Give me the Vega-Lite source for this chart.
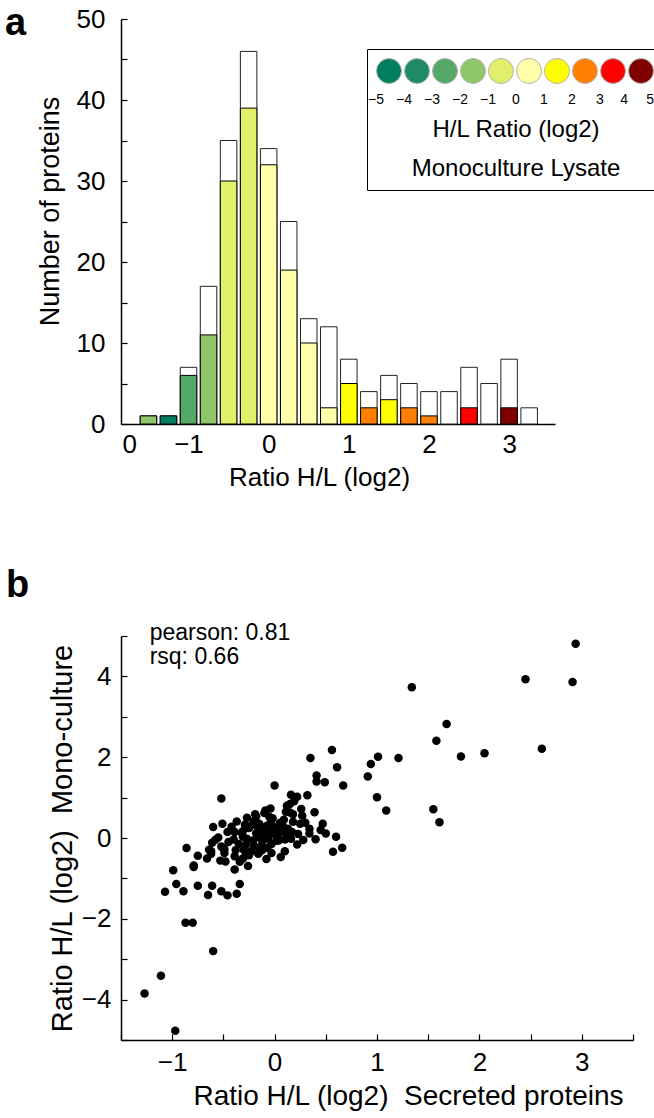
{
  "$schema": "https://vega.github.io/schema/vega-lite/v6.json",
  "background": "white",
  "padding": {"left": 5, "top": 5, "right": 0, "bottom": 5},
  "config": {
    "font": "Liberation Sans",
    "view": {"stroke": null},
    "axis": {"domainColor": "black", "domainWidth": 1.5, "tickColor": "black", "tickWidth": 1.2, "labelColor": "black", "titleColor": "black", "labelFont": "Liberation Sans", "titleFont": "Liberation Sans", "labelFontSize": 26, "titleFontSize": 27, "titleFontWeight": "normal", "grid": false, "labelFlush": false, "labelOverlap": false},
    "concat": {"spacing": 77}
  },
  "vconcat": [
    {
      "width": 434,
      "height": 405,
      "title": {"text": "a", "anchor": "start", "frame": "group", "fontSize": 38, "fontWeight": "bold", "dx": -116, "offset": -37, "color": "black"},
      "data": {"values": [
        {"ratio": -1.5, "total": 1, "lysate": 1, "bin": "-2"},
        {"ratio": -1.25, "total": 1, "lysate": 1, "bin": "-5"},
        {"ratio": -1.0, "total": 7, "lysate": 6, "bin": "-3"},
        {"ratio": -0.75, "total": 17, "lysate": 11, "bin": "-2"},
        {"ratio": -0.5, "total": 35, "lysate": 30, "bin": "-1"},
        {"ratio": -0.25, "total": 46, "lysate": 39, "bin": "-1"},
        {"ratio": 0.0, "total": 34, "lysate": 32, "bin": "0"},
        {"ratio": 0.25, "total": 25, "lysate": 19, "bin": "0"},
        {"ratio": 0.5, "total": 13, "lysate": 10, "bin": "0"},
        {"ratio": 0.75, "total": 12, "lysate": 2, "bin": "0"},
        {"ratio": 1.0, "total": 8, "lysate": 5, "bin": "1"},
        {"ratio": 1.25, "total": 4, "lysate": 2, "bin": "2"},
        {"ratio": 1.5, "total": 6, "lysate": 3, "bin": "1"},
        {"ratio": 1.75, "total": 5, "lysate": 2, "bin": "2"},
        {"ratio": 2.0, "total": 4, "lysate": 1, "bin": "2"},
        {"ratio": 2.25, "total": 4, "lysate": 0, "bin": null},
        {"ratio": 2.5, "total": 7, "lysate": 2, "bin": "3"},
        {"ratio": 2.75, "total": 5, "lysate": 0, "bin": null},
        {"ratio": 3.0, "total": 8, "lysate": 2, "bin": "4"},
        {"ratio": 3.25, "total": 2, "lysate": 0, "bin": null}
      ]},
      "layer": [
        {
          "mark": {"type": "bar", "orient": "vertical", "fill": "white", "stroke": "#222", "strokeWidth": 1, "size": 16.5},
          "encoding": {
            "x": {"field": "ratio", "type": "quantitative", "scale": {"domain": [-1.78, 3.51], "nice": false, "zero": false},
                  "axis": {"values": [-1.74, -1, 0, 1, 2, 3], "ticks": false, "labelExpr": "datum.value < -1.5 ? '0' : format(datum.value, 'd')", "labelPadding": 7, "title": "Ratio H/L (log2)", "titleFontSize": 26, "titlePadding": 7, "titleX": 198}},
            "y": {"field": "total", "type": "quantitative", "scale": {"domain": [0, 50], "nice": false},
                  "axis": {"values": [0, 5, 10, 15, 20, 25, 30, 35, 40, 45, 50], "labelExpr": "datum.value % 10 === 0 ? format(datum.value, 'd') : ''", "tickSize": -6, "labelPadding": 22, "title": "Number of proteins", "titlePadding": 12, "titleY": 192}}
          }
        },
        {
          "transform": [{"filter": "datum.lysate > 0"}],
          "mark": {"type": "bar", "orient": "vertical", "stroke": "black", "strokeWidth": 1, "size": 16.5},
          "encoding": {
            "x": {"field": "ratio", "type": "quantitative"},
            "y": {"field": "lysate", "type": "quantitative"},
            "fill": {"field": "bin", "type": "ordinal",
              "scale": {"domain": ["-5", "-4", "-3", "-2", "-1", "0", "1", "2", "3", "4"],
                        "range": ["#007f5f", "#1f8a66", "#55a868", "#8fc66a", "#e2ef6a", "#ffffaa", "#ffff00", "#ff8000", "#ff0000", "#800000"]},
              "legend": {
                "orient": "none", "legendX": 246, "legendY": 30,
                "direction": "horizontal", "columns": 10, "gridAlign": "each", "columnPadding": -8.2,
                "title": ["H/L Ratio (log2)", "Monoculture Lysate"],
                "titleOrient": "bottom", "titleAnchor": "middle", "titleAlign": "center", "titleFontSize": 24, "titleFontWeight": "normal", "titleLineHeight": 39, "titlePadding": 11, "titleColor": "black", "titleFont": "Liberation Sans", "titleLimit": 600,
                "symbolType": "circle", "symbolSize": 625, "symbolStrokeColor": "#b4b4b4", "symbolStrokeWidth": 1, "symbolOpacity": 1,
                "labelFontSize": 14, "labelColor": "black", "labelFont": "Liberation Sans", "labelAlign": "center", "labelOffset": -26, "labelBaseline": "top", "labelLimit": 200,
                "labelExpr": "datum.value === '4' ? '\u00a04\u00a0\u00a0\u00a0\u00a0\u20095' : (toNumber(datum.value) < 0 ? replace(datum.label, '-', '−') : '\u00a0' + datum.label + '\u00a0')",
                "strokeColor": "black", "fillColor": "white", "padding": 9,
                "encode": {
                  "labels": {"update": {"dy": {"value": 22}, "align": {"signal": "datum.value === '4' ? 'left' : 'center'"}, "dx": {"signal": "datum.value === '4' ? -7.8 : 0"}}},
                  "symbols": {"update": {"stroke": {"value": "#b4b4b4"}}}
                }
              }
            }
          }
        }
      ]
    },
    {
      "width": 512,
      "height": 404,
      "title": {"text": "b", "anchor": "start", "frame": "group", "fontSize": 38, "fontWeight": "bold", "dx": -115, "offset": 17, "color": "black"},
      "layer": [
        {
          "data": {"values": [
            {"secreted": 2.94, "mono": 4.81}, {"secreted": 2.45, "mono": 3.93}, {"secreted": 2.91, "mono": 3.86}, {"secreted": 1.34, "mono": 3.73},
            {"secreted": 1.68, "mono": 2.82}, {"secreted": 1.58, "mono": 2.41}, {"secreted": 2.61, "mono": 2.21}, {"secreted": 2.05, "mono": 2.10},
            {"secreted": 1.82, "mono": 2.02}, {"secreted": 1.21, "mono": 1.98}, {"secreted": 1.01, "mono": 2.01}, {"secreted": 0.94, "mono": 1.83},
            {"secreted": 0.91, "mono": 1.52}, {"secreted": 1.00, "mono": 1.01}, {"secreted": 1.09, "mono": 0.68}, {"secreted": 1.55, "mono": 0.71},
            {"secreted": 1.61, "mono": 0.39}, {"secreted": 0.56, "mono": 2.18}, {"secreted": 0.35, "mono": 1.98}, {"secreted": 0.61, "mono": 1.75},
            {"secreted": 0.41, "mono": 1.55}, {"secreted": 0.41, "mono": 1.40}, {"secreted": 0.49, "mono": 1.38}, {"secreted": 0.67, "mono": 1.30},
            {"secreted": 0.32, "mono": 1.06}, {"secreted": 0.16, "mono": 1.07}, {"secreted": 0.22, "mono": 1.02}, {"secreted": 0.19, "mono": 0.91},
            {"secreted": 0.15, "mono": 0.84}, {"secreted": 0.26, "mono": 0.72}, {"secreted": 0.11, "mono": 0.65}, {"secreted": 0.18, "mono": 0.59},
            {"secreted": 0.39, "mono": 0.64}, {"secreted": 0.30, "mono": 0.38}, {"secreted": 0.25, "mono": 0.35}, {"secreted": 0.47, "mono": 0.35},
            {"secreted": 0.34, "mono": 0.23}, {"secreted": 0.05, "mono": 0.37}, {"secreted": 0.04, "mono": 0.21}, {"secreted": 0.13, "mono": 0.23},
            {"secreted": 0.17, "mono": 0.15}, {"secreted": 0.23, "mono": 0.10}, {"secreted": 0.50, "mono": 0.11}, {"secreted": 0.60, "mono": 0.03},
            {"secreted": 0.40, "mono": -0.03}, {"secreted": 0.16, "mono": -0.02}, {"secreted": 0.10, "mono": -0.04}, {"secreted": 0.04, "mono": -0.06},
            {"secreted": 0.22, "mono": -0.16}, {"secreted": 0.66, "mono": -0.24}, {"secreted": 0.57, "mono": -0.34}, {"secreted": 0.10, "mono": -0.33},
            {"secreted": 0.06, "mono": -0.47}, {"secreted": 0.00, "mono": 1.30}, {"secreted": -0.52, "mono": 0.98}, {"secreted": -0.04, "mono": 0.73},
            {"secreted": -0.10, "mono": 0.62}, {"secreted": -0.19, "mono": 0.59}, {"secreted": -0.18, "mono": 0.53}, {"secreted": -0.02, "mono": 0.49},
            {"secreted": -0.04, "mono": 0.38}, {"secreted": -0.08, "mono": 0.30}, {"secreted": -0.01, "mono": 0.27}, {"secreted": -0.15, "mono": 0.35},
            {"secreted": -0.25, "mono": 0.25}, {"secreted": -0.22, "mono": 0.33}, {"secreted": -0.29, "mono": 0.33}, {"secreted": -0.37, "mono": 0.41},
            {"secreted": -0.51, "mono": 0.35}, {"secreted": -0.60, "mono": 0.27}, {"secreted": -0.46, "mono": 0.15}, {"secreted": -0.39, "mono": 0.15},
            {"secreted": -0.31, "mono": 0.17}, {"secreted": -0.55, "mono": 0.01}, {"secreted": -0.40, "mono": -0.04}, {"secreted": -0.31, "mono": 0.03},
            {"secreted": -0.27, "mono": -0.02}, {"secreted": -0.21, "mono": -0.06}, {"secreted": -0.17, "mono": 0.02}, {"secreted": -0.14, "mono": 0.08},
            {"secreted": -0.12, "mono": -0.08}, {"secreted": -0.08, "mono": 0.02}, {"secreted": -0.04, "mono": 0.15}, {"secreted": 0.03, "mono": 0.07},
            {"secreted": 0.05, "mono": 0.17}, {"secreted": 0.11, "mono": 0.12}, {"secreted": 0.11, "mono": -0.02}, {"secreted": 0.02, "mono": -0.07},
            {"secreted": -0.03, "mono": -0.15}, {"secreted": -0.07, "mono": -0.24}, {"secreted": -0.14, "mono": -0.22}, {"secreted": -0.20, "mono": -0.20},
            {"secreted": -0.23, "mono": -0.33}, {"secreted": -0.15, "mono": -0.35}, {"secreted": -0.28, "mono": -0.43}, {"secreted": -0.08, "mono": -0.52},
            {"secreted": 0.34, "mono": 0.11}, {"secreted": -0.61, "mono": -0.12}, {"secreted": -0.64, "mono": -0.29}, {"secreted": -0.62, "mono": -0.33},
            {"secreted": -0.52, "mono": -0.21}, {"secreted": -0.49, "mono": -0.28}, {"secreted": -0.53, "mono": -0.56}, {"secreted": -0.48, "mono": -0.58},
            {"secreted": -0.39, "mono": -0.45}, {"secreted": -0.34, "mono": -0.59}, {"secreted": -0.26, "mono": -0.69}, {"secreted": -0.31, "mono": -0.51},
            {"secreted": -0.38, "mono": -0.30}, {"secreted": -0.66, "mono": -0.51}, {"secreted": -0.75, "mono": -0.44}, {"secreted": -0.86, "mono": -0.25},
            {"secreted": -0.79, "mono": -0.68}, {"secreted": -0.99, "mono": -0.80}, {"secreted": -0.39, "mono": -0.78}, {"secreted": -0.62, "mono": -0.39},
            {"secreted": -0.49, "mono": -0.37}, {"secreted": -0.79, "mono": -0.72}, {"secreted": -0.96, "mono": -1.14}, {"secreted": -1.07, "mono": -1.33},
            {"secreted": -0.89, "mono": -1.32}, {"secreted": -0.75, "mono": -1.18}, {"secreted": -0.65, "mono": -1.41}, {"secreted": -0.61, "mono": -1.18},
            {"secreted": -0.52, "mono": -1.32}, {"secreted": -0.46, "mono": -1.42}, {"secreted": -0.37, "mono": -1.38}, {"secreted": -0.34, "mono": -1.14},
            {"secreted": -0.25, "mono": -0.43}, {"secreted": -0.16, "mono": -0.39}, {"secreted": -0.03, "mono": -0.37}, {"secreted": -0.87, "mono": -2.10},
            {"secreted": -0.80, "mono": -2.10}, {"secreted": -0.60, "mono": -2.80}, {"secreted": -1.11, "mono": -3.41}, {"secreted": -1.27, "mono": -3.85},
            {"secreted": -0.97, "mono": -4.77}, {"secreted": -0.50, "mono": -0.26}, {"secreted": -0.05, "mono": 0.52}, {"secreted": -0.32, "mono": 0.13},
            {"secreted": -0.28, "mono": -0.16}, {"secreted": 0.15, "mono": 0.63}, {"secreted": -0.09, "mono": 0.68}, {"secreted": -0.18, "mono": 0.12},
            {"secreted": -0.10, "mono": 0.20}, {"secreted": 0.08, "mono": 0.30}, {"secreted": -0.20, "mono": 0.42}, {"secreted": -0.45, "mono": -0.10},
            {"secreted": -0.35, "mono": -0.15}, {"secreted": 0.28, "mono": -0.05}, {"secreted": 0.45, "mono": 0.20}, {"secreted": -0.12, "mono": -0.30},
            {"secreted": 0.18, "mono": 0.40}, {"secreted": -0.27, "mono": 0.50}, {"secreted": 0.09, "mono": 0.45}, {"secreted": -0.06, "mono": -0.02},
            {"secreted": -0.42, "mono": 0.28}, {"secreted": 0.27, "mono": 0.55}, {"secreted": 0.12, "mono": 0.80}, {"secreted": -0.58, "mono": -0.05},
            {"secreted": -0.16, "mono": 0.25}, {"secreted": 0.00, "mono": 0.10}, {"secreted": -0.30, "mono": -0.30}
          ]},
          "mark": {"type": "point", "shape": "circle", "filled": true, "color": "black", "size": 72, "opacity": 1},
          "encoding": {
            "x": {"field": "secreted", "type": "quantitative", "scale": {"domain": [-1.5, 3.5], "nice": false, "zero": false},
                  "axis": {"values": [-1.5, -1, -0.5, 0, 0.5, 1, 1.5, 2, 2.5, 3, 3.5], "labelExpr": "datum.value % 1 === 0 ? format(datum.value, 'd') : ''", "tickSize": -6, "labelPadding": 15, "title": "Ratio H/L (log2)\u00a0\u00a0Secreted proteins", "titleFontSize": 28, "titlePadding": 7, "titleX": 287}},
            "y": {"field": "mono", "type": "quantitative", "scale": {"domain": [-5, 5], "nice": false, "zero": false},
                  "axis": {"values": [-5, -4, -3, -2, -1, 0, 1, 2, 3, 4, 5], "labelExpr": "datum.value % 2 === 0 && abs(datum.value) < 5 ? format(datum.value, 'd') : ''", "tickSize": -6, "labelPadding": 16, "title": "Ratio H/L (log2)\u00a0\u00a0Mono-culture", "titleFontSize": 29, "titlePadding": 4}}
          }
        },
        {
          "data": {"values": [{}]},
          "mark": {"type": "text", "text": "pearson: 0.81", "align": "left", "baseline": "alphabetic", "fontSize": 23, "font": "Liberation Sans", "color": "black"},
          "encoding": {"x": {"datum": -1.22}, "y": {"datum": 4.9}}
        },
        {
          "data": {"values": [{}]},
          "mark": {"type": "text", "text": "rsq: 0.66", "align": "left", "baseline": "alphabetic", "fontSize": 23, "font": "Liberation Sans", "color": "black"},
          "encoding": {"x": {"datum": -1.22}, "y": {"datum": 4.3}}
        }
      ]
    }
  ]
}
